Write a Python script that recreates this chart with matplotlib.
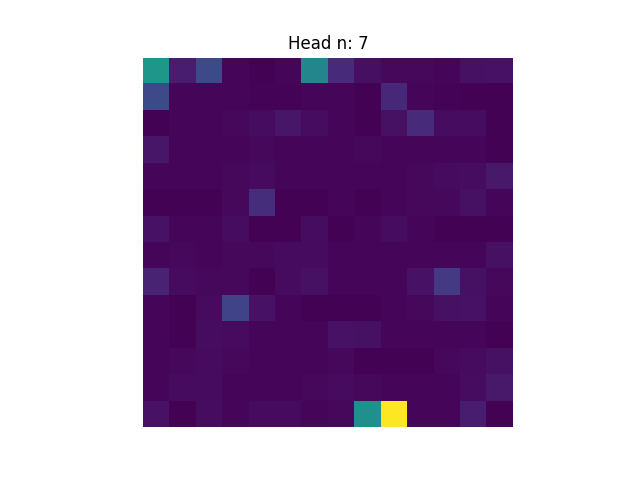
import numpy as np
import matplotlib
matplotlib.use("Agg")
import matplotlib.pyplot as plt

head = 7

# attention weights (14 x 14)
row_00 = [0.53, 0.08, 0.22, 0.015, 0.005, 0.015, 0.46, 0.12, 0.04, 0.02, 0.02, 0.015, 0.045, 0.05]
row_01 = [0.22, 0.015, 0.015, 0.015, 0.01, 0.01, 0.015, 0.015, 0.005, 0.11, 0.015, 0.01, 0.005, 0.005]
row_02 = [0.005, 0.015, 0.015, 0.02, 0.035, 0.06, 0.035, 0.015, 0.005, 0.045, 0.12, 0.035, 0.035, 0.005]
row_03 = [0.06, 0.015, 0.015, 0.015, 0.02, 0.015, 0.015, 0.015, 0.02, 0.015, 0.015, 0.015, 0.015, 0.005]
row_04 = [0.015, 0.015, 0.015, 0.02, 0.03, 0.015, 0.015, 0.015, 0.015, 0.015, 0.02, 0.03, 0.035, 0.07]
row_05 = [0.005, 0.005, 0.005, 0.02, 0.13, 0.005, 0.005, 0.015, 0.005, 0.015, 0.02, 0.02, 0.045, 0.015]
row_06 = [0.05, 0.015, 0.015, 0.035, 0.005, 0.005, 0.035, 0.005, 0.015, 0.035, 0.015, 0.005, 0.005, 0.005]
row_07 = [0.015, 0.02, 0.015, 0.02, 0.02, 0.03, 0.03, 0.015, 0.015, 0.015, 0.015, 0.015, 0.015, 0.045]
row_08 = [0.10, 0.03, 0.02, 0.02, 0.005, 0.03, 0.045, 0.015, 0.015, 0.015, 0.05, 0.17, 0.045, 0.02]
row_09 = [0.015, 0.005, 0.03, 0.20, 0.05, 0.015, 0.005, 0.005, 0.005, 0.015, 0.02, 0.045, 0.05, 0.015]
row_10 = [0.015, 0.005, 0.035, 0.03, 0.015, 0.015, 0.015, 0.05, 0.045, 0.015, 0.015, 0.015, 0.015, 0.005]
row_11 = [0.015, 0.02, 0.03, 0.02, 0.015, 0.015, 0.015, 0.02, 0.005, 0.005, 0.005, 0.02, 0.03, 0.045]
row_12 = [0.015, 0.03, 0.03, 0.015, 0.015, 0.015, 0.02, 0.03, 0.02, 0.015, 0.015, 0.015, 0.035, 0.07]
row_13 = [0.05, 0.005, 0.035, 0.015, 0.03, 0.03, 0.015, 0.02, 0.50, 1.00, 0.015, 0.015, 0.08, 0.005]

rows = [row_00, row_01, row_02, row_03, row_04, row_05, row_06,
        row_07, row_08, row_09, row_10, row_11, row_12, row_13]
attn = np.array(rows)

fig = plt.figure(figsize=(6.4, 4.8), dpi=100)
plt.imshow(attn, cmap="viridis", vmin=0.0, vmax=1.0)
plt.axis("off")
plt.title(f"Head n: {head}")
fig.savefig("out.png")
